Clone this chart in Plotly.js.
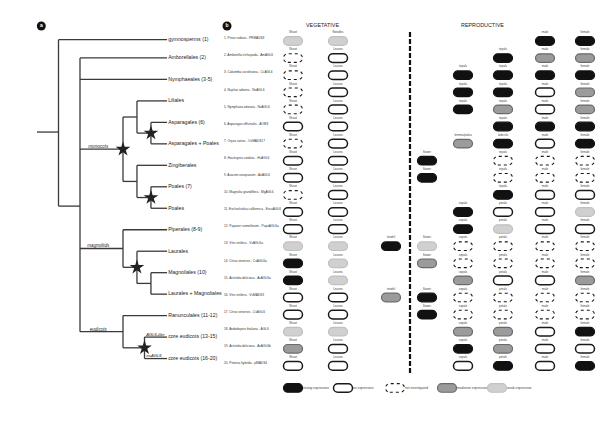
<!DOCTYPE html>
<html><head><meta charset="utf-8">
<script src="https://cdn.plot.ly/plotly-3.0.1.min.js"></script>
<style>html,body{margin:0;padding:0;background:#fff}#chart{width:600px;height:424px}</style>
</head><body><div id="chart"></div>
<script>
// ---------- Panel a: tree data ----------
const leafLabels = ["gymnosperms (1)","Amborellales (2)","Nymphaeales (3-5)","Liliales","Asparagales (6)","Asparagales + Poales","Zingiberales","Poales (7)","Poales","Piperales (8-9)","Laurales","Magnoliales (10)","Laurales + Magnoliales","Ranunculales (11-12)","core eudicots (13-15)","core eudicots (16-20)"];
const leafPos = [0.15,1,2,3,4,5,6,7,8,9,10,11,12,13,14,15];
const leafDepth = 6.05;
const nodeNames    = ["root","angio","monocots","mA","mA2","mB","mB2","magnoliids","mg2","mg3","eudicots","eu2"];
const nodeDepth    = [1,2,4,4.65,5.3,4.65,5.3,4,4.65,5.3,4,5.0];
const nodeChildren = [[0,"angio"],[1,2,"monocots","magnoliids","eudicots"],["mA","mB"],[3,"mA2"],[4,5],[6,"mB2"],[7,8],[9,"mg2"],[10,"mg3"],[11,12],[13,"eu2"],[14,15]];
const nodeFixedPos = [4.45,7.9,null,null,null,null,null,null,null,null,null,null];
const starNodes = ["monocots","mA2","mB2","mg2","eu2"];
const cladeLabels = ["monocots","magnoliids","eudicots"];
const geneLabels = ["AGL6-like","euAGL6"];
const geneLeaves = [14,15];

// ---------- Panel b: expression data ----------
const speciesLabels = ["1. Pinus radiata - PRMADS3","2. Amborella trichopoda - AmAGL6","3. Cabomba caroliniana - CcAGL6","4. Nuphar advena - NaAGL6","5. Nymphaea odorata - NoAGL6","6. Asparagus officinalis - AOM3","7. Oryza sativa - OsMADS17","8. Houttuynia cordata - HcAGL6","9. Asarum europaeum - AeAGL6","10. Magnolia grandiflora - MgAGL6","11. Eschscholzia californica - EscaAGL6","12. Papaver somniferum - PapsAGL6a","13. Vitis vinifera - VvAGL6a","14. Citrus sinensis - CsAGL6a","15. Actinidia deliciosa - AcAGL6a","16. Vitis vinifera - VvMADS3","17. Citrus sinensis - CsAGL6","18. Arabidopsis thaliana - AGL6","19. Actinidia deliciosa - AcAGL6b","20. Petunia hybrida - pMADS4"];
// S strong, N no expression, X not investigated, M moderate, W weak
const shoot   = ["W","X","X","X","X","N","X","N","N","X","N","N","W","S","S","N","N","W","M","N"];
const leaves  = ["W","N","N","N","N","N","N","N","N","N","N","N","W","W","W","N","N","W","N","N"];
const tendril = [null,null,null,null,null,null,null,null,null,null,null,null,"S",null,null,"M",null,null,null,null];
const flower  = [null,null,null,null,null,null,null,"S","S",null,null,null,"W","M",null,"S","S",null,null,null];
const sepals  = [null,null,"S","S","S",null,"M",null,null,null,"S","S","X","X","M","X","X","M","S","N"];
const petals  = [null,"S","S","S","M","S","S","X","X","S","N","W","X","X","N","X","X","M","M","S"];
const male    = ["S","M","S","N","N","S","N","X","X","N","N","N","X","X","N","X","X","N","N","N"];
const female  = ["S","M","S","M","M","S","S","X","X","N","W","N","X","X","M","X","X","S","N","S"];
const leavesNames = ["Needles","Leaves","Leaves","Leaves","Leaves","Leaves","Leaves","Leaves","Leaves","Leaves","Leaves","Leaves","Leaves","Leaves","Leaves","Leaves","Leaves","Leaves","Leaves","Leaves"];
const sepalNames  = [null,null,"tepals","tepals","tepals",null,"lemma/palea",null,null,null,"sepals","sepals","sepals","sepals","sepals","sepals","sepals","sepals","sepals","sepals"];
const petalNames  = [null,"tepals","tepals","tepals","tepals","tepals","lodicule","tepals","tepals","tepals","petals","petals","petals","petals","petals","petals","petals","petals","petals","petals"];
const legendCodes = ["S","N","X","M","W"];
const legendNames = ["strong expression","no expression","not investigated","moderate expression","weak expression"];

// ---------- layout positions (horizontal, in px units of the panel-b axis) ----------
const colPos = [293,338,391,427,463,503,545,585];
const legendPos = [293,343,395,447,497];

// ---------- build ----------
const FONT = "Liberation Sans, Arial, sans-serif";
const nodeIndex = n => nodeNames.indexOf(n);
function childPos(ch){ return typeof ch === "number" ? leafPos[ch] : nodePos(nodeIndex(ch)); }
function childDepth(ch){ return typeof ch === "number" ? leafDepth : nodeDepth[nodeIndex(ch)]; }
function nodePos(i){
  if (nodeFixedPos[i] !== null) return nodeFixedPos[i];
  const ps = nodeChildren[i].map(childPos);
  return ps.reduce((a,b)=>a+b,0)/ps.length;
}
const tx=[], ty=[];
tx.push(0, nodeDepth[0], null); ty.push(nodePos(0), nodePos(0), null);
nodeNames.forEach((n,i)=>{
  const d = nodeDepth[i];
  const ps = nodeChildren[i].map(childPos);
  tx.push(d,d,null); ty.push(Math.min(...ps), Math.max(...ps), null);
  nodeChildren[i].forEach(ch=>{ const p=childPos(ch); tx.push(d, childDepth(ch), null); ty.push(p,p,null); });
});
const traces = [];
traces.push({x:tx,y:ty,mode:"lines",line:{color:"#3a3a3a",width:1.3},hoverinfo:"skip",showlegend:false,xaxis:"x",yaxis:"y"});
traces.push({x:starNodes.map(n=>nodeDepth[nodeIndex(n)]), y:starNodes.map(n=>nodePos(nodeIndex(n))), mode:"markers",
  marker:{symbol:"star",size:11,color:"#222",line:{width:0}},hoverinfo:"skip",showlegend:false,xaxis:"x",yaxis:"y"});
traces.push({x:leafPos.map(()=>leafDepth+0.05), y:leafPos, mode:"text", text:leafLabels, textposition:"middle right",
  textfont:{family:FONT,size:5.2,color:"#222"},hoverinfo:"skip",showlegend:false,xaxis:"x",yaxis:"y"});
traces.push({x:cladeLabels.map(()=>2.85), y:cladeLabels.map(n=>nodePos(nodeIndex(n))), mode:"text", text:cladeLabels.map(s=>"<i>"+s+"</i>"),
  textposition:"top center",textfont:{family:FONT,size:4.6,color:"#222"},hoverinfo:"skip",showlegend:false,xaxis:"x",yaxis:"y"});
traces.push({x:geneLeaves.map(()=>nodeDepth[nodeIndex("eu2")]+0.08), y:geneLeaves.map(l=>leafPos[l]), mode:"text", text:geneLabels.map(s=>"<i>"+s+"</i>"),
  textposition:"top right",textfont:{family:FONT,size:4.2,color:"#222"},hoverinfo:"skip",showlegend:false,xaxis:"x",yaxis:"y"});
traces.push({x:[0.2],y:[-0.49],mode:"markers+text",text:["<b>a</b>"],textposition:"middle center",
  marker:{size:9,color:"#111"},textfont:{family:FONT,size:5,color:"#fff"},hoverinfo:"skip",showlegend:false,xaxis:"x",yaxis:"y"});

// panel b
const rows = speciesLabels.map((_,i)=>i+1);
const columns = [shoot,leaves,tendril,flower,sepals,petals,male,female];
const colNames = [rows.map(()=> "Shoot"), leavesNames, rows.map(()=>"tendril"), rows.map(()=>"flower"), sepalNames, petalNames, rows.map(()=>"male"), rows.map(()=>"female")];
const styles = {
  S:{fill:"#111111",line:"#111111",w:1.2,dash:"solid"},
  N:{fill:"#ffffff",line:"#1a1a1a",w:1.5,dash:"solid"},
  X:{fill:"#ffffff",line:"#1a1a1a",w:1.1,dash:"dot"},
  M:{fill:"#9b9b9b",line:"#6a6a6a",w:1.2,dash:"solid"},
  W:{fill:"#d0d0d0",line:"#c0c0c0",w:1.2,dash:"solid"}
};
const PILL = "M-5.2,-4.3 L5.2,-4.3 C7.57,-4.3 9.5,-2.37 9.5,0 C9.5,2.37 7.57,4.3 5.2,4.3 L-5.2,4.3 C-7.57,4.3 -9.5,2.37 -9.5,0 C-9.5,-2.37 -7.57,-4.3 -5.2,-4.3 Z";
function pill(x,r,code){
  const s = styles[code];
  return {type:"path",xref:"x2",yref:"y2",xsizemode:"pixel",ysizemode:"pixel",xanchor:x,yanchor:r,path:PILL,
    fillcolor:s.fill,line:{color:s.line,width:s.w,dash:s.dash},layer:"above"};
}
const shapes = [];
const lx=[], ly=[], lt=[];
columns.forEach((col,c)=>{
  col.forEach((code,i)=>{
    if(!code) return;
    shapes.push(pill(colPos[c], rows[i], code));
    lx.push(colPos[c]); ly.push(rows[i]-0.5); lt.push(colNames[c][i]);
  });
});
traces.push({x:lx,y:ly,mode:"text",text:lt,textposition:"middle center",textfont:{family:FONT,size:3,color:"#444"},
  hoverinfo:"skip",showlegend:false,xaxis:"x2",yaxis:"y2"});
traces.push({x:rows.map(()=>224),y:rows.map(r=>r-0.15),mode:"text",text:speciesLabels,textposition:"middle right",
  textfont:{family:FONT,size:3.2,color:"#333"},hoverinfo:"skip",showlegend:false,xaxis:"x2",yaxis:"y2"});
const legendRow = 21.29;
legendCodes.forEach((code,k)=>shapes.push(pill(legendPos[k],legendRow,code)));
traces.push({x:legendPos.map(v=>v+10),y:legendPos.map(()=>legendRow),mode:"text",text:legendNames,textposition:"middle right",
  textfont:{family:FONT,size:3.3,color:"#444"},hoverinfo:"skip",showlegend:false,xaxis:"x2",yaxis:"y2"});
traces.push({x:[227],y:[0.12],mode:"markers+text",text:["<b>b</b>"],textposition:"middle center",
  marker:{size:9,color:"#111"},textfont:{family:FONT,size:5,color:"#fff"},hoverinfo:"skip",showlegend:false,xaxis:"x2",yaxis:"y2"});
shapes.push({type:"line",xref:"x2",yref:"y2",x0:410,x1:410,y0:0.47,y1:20.45,line:{color:"#111",width:2.2,dash:"5px,2px"}});

const hidden = {visible:false,showgrid:false,zeroline:false,fixedrange:true};
const layout = {
  width:600,height:424,margin:{l:0,r:0,t:0,b:0},paper_bgcolor:"#fff",plot_bgcolor:"#fff",showlegend:false,
  xaxis:Object.assign({range:[-1.7209,26.186],domain:[0,1]},hidden),
  yaxis:Object.assign({range:[18.048,-1.700],domain:[0,1]},hidden),
  xaxis2:Object.assign({range:[0,600],domain:[0,1],overlaying:"x",anchor:"y2"},hidden),
  yaxis2:Object.assign({range:[23.398,-1.3977],domain:[0,1],overlaying:"y",anchor:"x2"},hidden),
  shapes:shapes,
  annotations:[
    {xref:"x2",yref:"y2",x:322,y:0.05,text:"VEGETATIVE",showarrow:false,font:{family:FONT,size:5.4,color:"#222"}},
    {xref:"x2",yref:"y2",x:482,y:0.05,text:"REPRODUCTIVE",showarrow:false,font:{family:FONT,size:5.4,color:"#222"}}
  ]
};
Plotly.newPlot("chart",traces,layout,{staticPlot:true,displayModeBar:false});
</script></body></html>
